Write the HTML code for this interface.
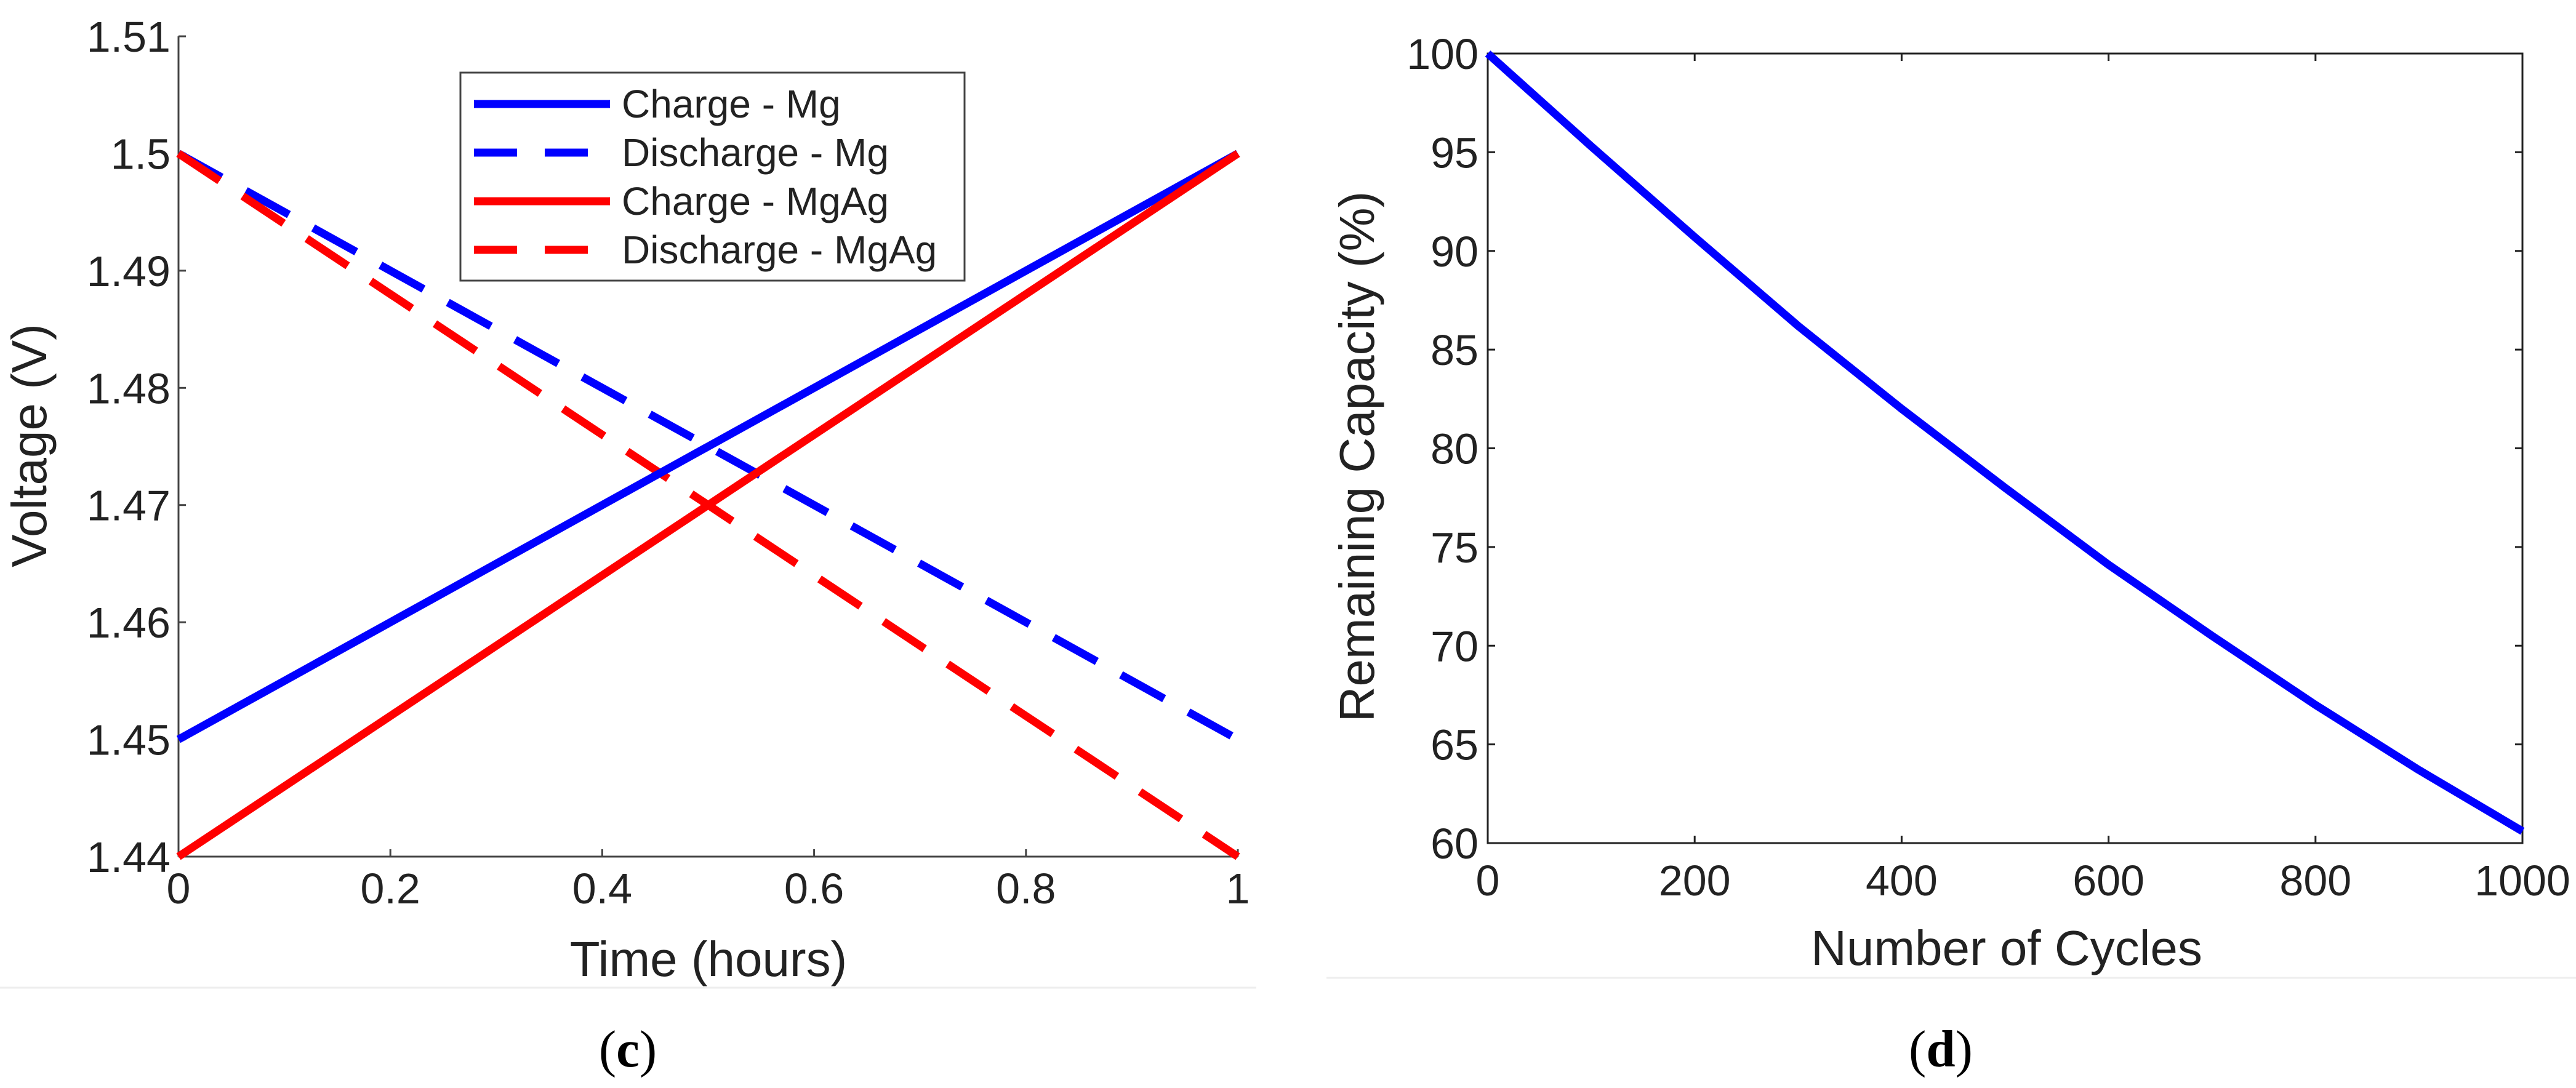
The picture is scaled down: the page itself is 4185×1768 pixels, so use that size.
<!DOCTYPE html>
<html><head><meta charset="utf-8"><style>
html,body{margin:0;padding:0;background:#fff;}
svg{display:block;font-family:"Liberation Sans",sans-serif;}
</style></head><body>
<svg id="fig" width="4185" height="1768" viewBox="0 0 4185 1768" xmlns="http://www.w3.org/2000/svg">
<line x1="0" y1="1605" x2="2041" y2="1605" stroke="#eee" stroke-width="3"/>
<line x1="2155" y1="1589" x2="4185" y2="1589" stroke="#eee" stroke-width="3"/>
<g id="chartC"></g>
<g id="chartD"></g>
<text x="1020" y="1733" text-anchor="middle" font-family="Liberation Serif,serif" font-size="85" fill="#000">(<tspan font-weight="bold">c</tspan>)</text>
<text x="3153" y="1733" text-anchor="middle" font-family="Liberation Serif,serif" font-size="85" fill="#000">(<tspan font-weight="bold">d</tspan>)</text>
</svg>
<script>
// Chart C data
const timeX = [0, 1];
const chargeMg = [1.45, 1.50];
const dischargeMg = [1.50, 1.45];
const chargeMgAg = [1.44, 1.50];
const dischargeMgAg = [1.50, 1.44];
const cXTicks = [0, 0.2, 0.4, 0.6, 0.8, 1];
const cXTickLabels = ["0", "0.2", "0.4", "0.6", "0.8", "1"];
const cYTicks = [1.44, 1.45, 1.46, 1.47, 1.48, 1.49, 1.5, 1.51];
const cYTickLabels = ["1.44", "1.45", "1.46", "1.47", "1.48", "1.49", "1.5", "1.51"];
const legendLabels = ["Charge - Mg", "Discharge - Mg", "Charge - MgAg", "Discharge - MgAg"];
// Chart D data
const cycles = [0, 100, 200, 300, 400, 500, 600, 700, 800, 900, 1000];
const capacity = [100, 95.3, 90.7, 86.2, 82.0, 78.0, 74.1, 70.5, 67.0, 63.7, 60.6];
const dXTicks = [0, 200, 400, 600, 800, 1000];
const dYTicks = [60, 65, 70, 75, 80, 85, 90, 95, 100];

const NS = "http://www.w3.org/2000/svg";
function mk(tag, attrs, parent) {
  const e = document.createElementNS(NS, tag);
  for (const k in attrs) e.setAttribute(k, attrs[k]);
  parent.appendChild(e);
  return e;
}
const TXT = "#222";

// ---- Chart C ----
const gc = document.getElementById("chartC");
const cx = v => 290 + (v - 0) / 1 * (2011 - 290);
const cy = v => 1392 - (v - 1.44) / 0.07 * (1392 - 59);
let ax = mk("line", {x1: 290, y1: 59, x2: 290, y2: 1392, stroke: "#444", "stroke-width": 3}, gc);


ax = mk("line", {x1: 290, y1: 1392, x2: 2011, y2: 1392, stroke: "#444", "stroke-width": 3}, gc);


cXTicks.forEach((t, i) => {
  const tk = mk("line", {x1: cx(t), y1: 1392, x2: cx(t), y2: 1380, stroke: "#444", "stroke-width": 3}, gc);
  
  
  const tl = mk("text", {x: cx(t), y: 1468, "text-anchor": "middle", "font-size": 70, fill: TXT}, gc);
  tl.textContent = cXTickLabels[i];
  
  
});
cYTicks.forEach((t, i) => {
  const tk = mk("line", {x1: 290, y1: cy(t), x2: 302, y2: cy(t), stroke: "#444", "stroke-width": 3}, gc);
  
  
  const tl = mk("text", {x: 277, y: cy(t) + 25, "text-anchor": "end", "font-size": 70, fill: TXT}, gc);
  tl.textContent = cYTickLabels[i];
  
  
});
let lb = mk("text", {x: 1151, y: 1586, "text-anchor": "middle", "font-size": 80, fill: TXT}, gc);
lb.textContent = "Time (hours)";


lb = mk("text", {x: 0, y: 0, "text-anchor": "middle", "font-size": 80, fill: TXT, transform: "translate(75,724) rotate(-90)"}, gc);
lb.textContent = "Voltage (V)";



const seriesC = [
  {v: dischargeMg, c: "#0000ff", d: "80 45", n: "discharge-mg-line"},
  {v: dischargeMgAg, c: "#ff0000", d: "80 45", n: "discharge-mgag-line"},
  {v: chargeMg, c: "#0000ff", d: "", n: "charge-mg-line"},
  {v: chargeMgAg, c: "#ff0000", d: "", n: "charge-mgag-line"}
];
seriesC.forEach(s => {
  const pts = timeX.map((t, i) => cx(t) + "," + cy(s.v[i])).join(" ");
  const a = {points: pts, fill: "none", stroke: s.c, "stroke-width": 13};
  if (s.d) a["stroke-dasharray"] = s.d;
  const pl = mk("polyline", a, gc);
  
  
});
// legend
const lg = mk("g", {}, gc);


mk("rect", {x: 748, y: 118, width: 819, height: 338, fill: "#fff", stroke: "#444", "stroke-width": 3}, lg);
const legStyles = [["#0000ff", ""], ["#0000ff", "70 45"], ["#ff0000", ""], ["#ff0000", "70 45"]];
const rowY = [169, 248, 327, 406];
legendLabels.forEach((l, i) => {
  const g = mk("g", {}, lg);
  
  
  const a = {x1: 770, y1: rowY[i], x2: 991, y2: rowY[i], stroke: legStyles[i][0], "stroke-width": 13};
  if (legStyles[i][1]) a["stroke-dasharray"] = legStyles[i][1];
  mk("line", a, g);
  const t = mk("text", {x: 1010, y: rowY[i] + 22, "font-size": 64, fill: TXT}, g);
  t.textContent = l;
});

// ---- Chart D ----
const gd = document.getElementById("chartD");
const dx = v => 2417 + v / 1000 * (4098 - 2417);
const dy = v => 1370 - (v - 60) / 40 * (1370 - 87);
const box = mk("rect", {x: 2417, y: 87, width: 4098 - 2417, height: 1370 - 87, fill: "none", stroke: "#222", "stroke-width": 3}, gd);


dXTicks.forEach(t => {
  let tk = mk("line", {x1: dx(t), y1: 1370, x2: dx(t), y2: 1358, stroke: "#222", "stroke-width": 3}, gd);
  
  
  tk = mk("line", {x1: dx(t), y1: 87, x2: dx(t), y2: 99, stroke: "#222", "stroke-width": 3}, gd);
  
  
  const tl = mk("text", {x: dx(t), y: 1455, "text-anchor": "middle", "font-size": 70, fill: TXT}, gd);
  tl.textContent = String(t);
  
  
});
dYTicks.forEach(t => {
  let tk = mk("line", {x1: 2417, y1: dy(t), x2: 2429, y2: dy(t), stroke: "#222", "stroke-width": 3}, gd);
  
  
  tk = mk("line", {x1: 4086, y1: dy(t), x2: 4098, y2: dy(t), stroke: "#222", "stroke-width": 3}, gd);
  
  
  const tl = mk("text", {x: 2402, y: dy(t) + 25, "text-anchor": "end", "font-size": 70, fill: TXT}, gd);
  tl.textContent = String(t);
  
  
});
lb = mk("text", {x: 3260, y: 1568, "text-anchor": "middle", "font-size": 80, fill: TXT}, gd);
lb.textContent = "Number of Cycles";


lb = mk("text", {x: 0, y: 0, "text-anchor": "middle", "font-size": 80, fill: TXT, transform: "translate(2232,742) rotate(-90)"}, gd);
lb.textContent = "Remaining Capacity (%)";


const cpts = cycles.map((c, i) => dx(c) + "," + dy(capacity[i])).join(" ");
const cl = mk("polyline", {points: cpts, fill: "none", stroke: "#0000ff", "stroke-width": 13, "stroke-linejoin": "round"}, gd);


</script>
</body></html>
